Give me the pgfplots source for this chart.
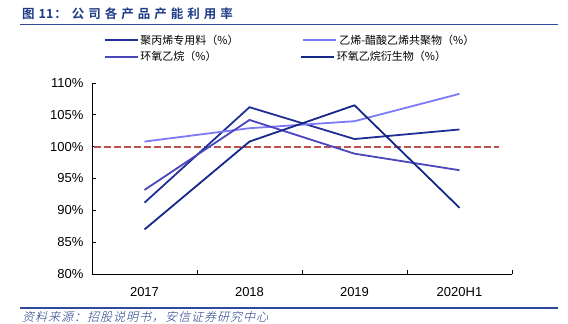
\documentclass[border=0pt]{standalone}
\usepackage{fontspec}
\usepackage{pgfplots}
\pgfplotsset{compat=1.18}
\setmainfont{Liberation Sans}
\newfontfamily\cjk{Noto Sans CJK SC}
\newfontfamily\cjkb{Noto Sans CJK SC Bold}
\newfontfamily\cjkit[FakeSlant=0.25]{Noto Sans CJK SC Light}
\definecolor{c1}{HTML}{1F2F96}
\definecolor{c2}{HTML}{7B7BF7}
\definecolor{c3}{HTML}{4A46BC}
\definecolor{c4}{HTML}{14288A}
\definecolor{cref}{HTML}{C0504D}
\definecolor{ctitle}{HTML}{1F3C88}
\definecolor{crule}{HTML}{2F4A9C}
\makeatletter
\newcommand\spread[2]{\@tfor\x:=#2\do{\x\kern#1}}
\makeatother
\pgfplotsset{
  base/.style={
    at={(92pt,-274pt)}, anchor=south west,
    scale only axis, width=420pt, height=191pt,
    xmin=0, xmax=4, ymin=80, ymax=110,
    clip=false,
    legend columns=2,
    legend cell align=left,
    legend image code/.code={\draw[##1] (0pt,0pt) -- (33pt,0pt);},
    legend style={anchor=north west, draw=none, fill=none,
      font=\cjk\fontsize{11}{13}\selectfont},
  }
}
\begin{document}
\begin{tikzpicture}
\path (0pt,0pt) rectangle (568pt,-324pt);
\node[anchor=west, text=ctitle, inner sep=0pt, font=\fontsize{12.5}{15}\selectfont] at (22pt,-14pt) {\cjkb 图\kern4pt 11\kern1pt：\kern5pt\spread{4pt}{公司各产品产能利用率}};
\draw[crule, line width=1.5pt] (20pt,-24.5pt) -- (558pt,-24.5pt);
\draw[crule, line width=1.5pt] (20pt,-308pt) -- (558pt,-308pt);
\node[anchor=west, text=ctitle, inner sep=0pt, font=\fontsize{12}{14}\selectfont] at (22pt,-317pt) {\cjkit\spread{1pt}{资料来源：招股说明书，安信证券研究中心}};
\begin{axis}[
  base,
  axis lines*=left,
  axis line style={line width=0.8pt, black},
  xtick={0.5,1.5,2.5,3.5},
  xticklabels={2017,2018,2019,2020H1},
  major x tick style={draw=none},
  minor xtick={0,1,2,3,4},
  minor tick length=4pt,
  minor x tick style={line width=0.8pt, black},
  ytick={80,85,...,110},
  yticklabel={\pgfmathprintnumber{\tick}\%},
  major tick length=4pt,
  tick align=inside,
  major y tick style={line width=0.8pt, black},
  tick label style={font=\fontsize{13}{15}\selectfont},
  /pgf/number format/assume math mode=true,
  xticklabel style={yshift=-10pt},
  yticklabel style={xshift=-5pt},
  legend style={at={(rel axis cs:0.02,1.275)},
    /tikz/every even column/.append style={column sep=62pt}},
]
\addplot[cref, line width=1.8pt, dash pattern=on 7pt off 3pt, forget plot] coordinates {(0.02,100) (3.88,100)};
\addplot[c1, line width=1.8pt] coordinates {(0.5,91.2) (1.5,106.2) (2.5,101.2) (3.5,102.7)};
\addlegendentry{聚丙烯专用料（\%）}
\addplot[c2, line width=1.8pt] coordinates {(0.5,100.8) (1.5,102.9) (2.5,104.0) (3.5,108.3)};
\addlegendentry{乙烯-醋酸乙烯共聚物（\%）}
\end{axis}
\begin{axis}[
  base, hide axis,
  legend style={at={(rel axis cs:0.02,1.187)},
    /tikz/every even column/.append style={column sep=81.6pt}},
]
\addplot[c3, line width=1.8pt] coordinates {(0.5,93.2) (1.5,104.2) (2.5,98.9) (3.5,96.3)};
\addlegendentry{环氧乙烷（\%）}
\addplot[c4, line width=1.8pt] coordinates {(0.5,87.0) (1.5,100.8) (2.5,106.5) (3.5,90.4)};
\addlegendentry{环氧乙烷衍生物（\%）}
\end{axis}
\end{tikzpicture}
\end{document}
